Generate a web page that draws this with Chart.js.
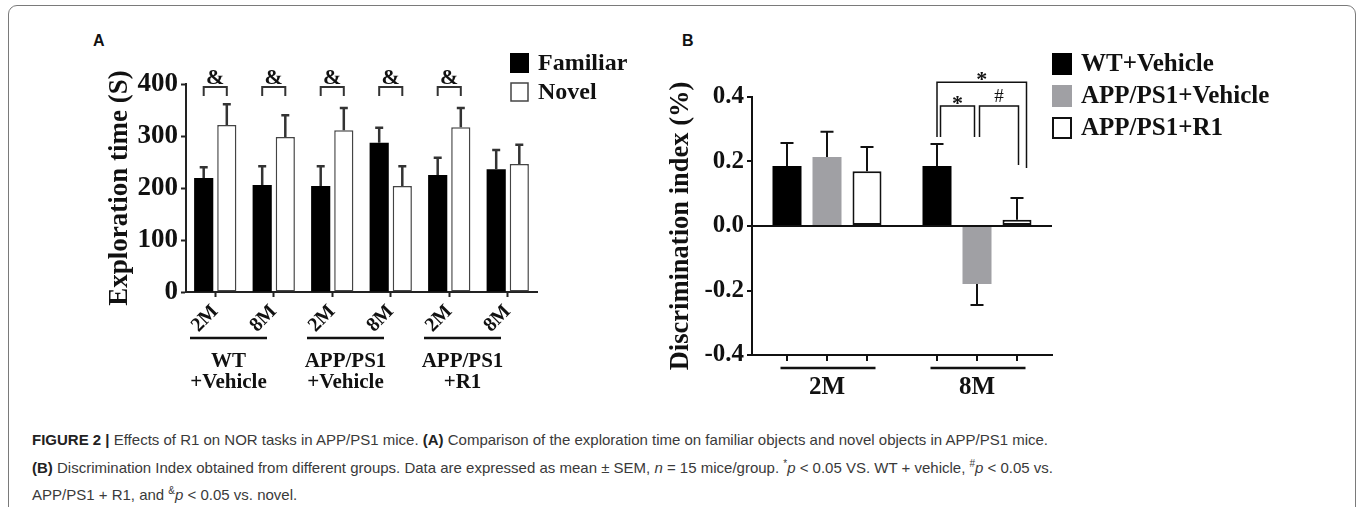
<!DOCTYPE html>
<html>
<head>
<meta charset="utf-8">
<script src="https://cdn.jsdelivr.net/npm/chart.js@4.4.1/dist/chart.umd.min.js"></script>
<style>
  html, body { margin: 0; padding: 0; background: #fff; }
  body { width: 1357px; height: 507px; position: relative; overflow: hidden; }
  #frame { position: absolute; left: 8px; top: 5px; width: 1346px; height: 560px; border: 1px solid #7a7a7a; border-radius: 9px; }
  .panel { position: absolute; font: bold 16px "Liberation Sans", Arial, sans-serif; color: #111; }
  #chartA { position: absolute; left: 104px; top: 20px; }
  #chartB { position: absolute; left: 665px; top: 20px; }
  #caption { position: absolute; left: 32px; top: 426px; font: 15px "Liberation Sans", Arial, sans-serif; color: #3a3a3a; line-height: 27.5px; white-space: nowrap; }
  #caption b { color: #222; }
  #caption sup { line-height: 0; font-size: 10px; }
</style>
</head>
<body>
<div id="frame"></div>
<div class="panel" style="left:93px; top:32px;">A</div>
<div class="panel" style="left:682px; top:32px;">B</div>
<canvas id="chartA" width="560" height="390"></canvas>
<canvas id="chartB" width="680" height="390"></canvas>
<div id="caption"><b>FIGURE 2 |</b> Effects of R1 on NOR tasks in APP/PS1 mice. <b>(A)</b> Comparison of the exploration time on familiar objects and novel objects in APP/PS1 mice.<br><b>(B)</b> Discrimination Index obtained from different groups. Data are expressed as mean ± SEM, <i>n</i> = 15 mice/group. <sup>*</sup><i>p</i> &lt; 0.05 VS. WT + vehicle, <sup>#</sup><i>p</i> &lt; 0.05 vs.<br>APP/PS1 + R1, and <sup>&amp;</sup><i>p</i> &lt; 0.05 vs. novel.</div>
<script>
// panel A data
const ageLabels = ['2M', '8M', '2M', '8M', '2M', '8M'];
const groupNames = [['WT', '+Vehicle'], ['APP/PS1', '+Vehicle'], ['APP/PS1', '+R1']];
const familiarTime = [219, 206, 204, 287, 225, 236];
const familiarSem = [21, 36, 38, 29, 33, 37];
const novelTime = [321, 298, 311, 204, 317, 246];
const novelSem = [40, 42, 43, 38, 37, 37];
const ampPairs = [0, 1, 2, 3, 4];

// panel B data
const ageGroups = ['2M', '8M'];
const wtIndex = [0.186, 0.186];
const wtSem = [0.071, 0.068];
const appIndex = [0.214, -0.18];
const appSem = [0.078, 0.065];
const r1Index = [0.17, 0.019];
const r1Sem = [0.075, 0.068];

const SERIF = '"Liberation Serif", "Times New Roman", serif';
const INK = '#111';

function drawErrors(chart, sems, capW, color, lw) {
  const ctx = chart.ctx, y = chart.scales.y;
  ctx.save();
  ctx.strokeStyle = color;
  ctx.lineWidth = lw;
  chart.data.datasets.forEach((ds, i) => {
    chart.getDatasetMeta(i).data.forEach((bar, j) => {
      const v = ds.data[j], e = sems[i][j];
      const tip = y.getPixelForValue(v >= 0 ? v + e : v - e);
      ctx.beginPath();
      ctx.moveTo(bar.x, bar.y);
      ctx.lineTo(bar.x, tip);
      ctx.moveTo(bar.x - capW / 2, tip);
      ctx.lineTo(bar.x + capW / 2, tip);
      ctx.stroke();
    });
  });
  ctx.restore();
}

function bracket(ctx, x0, x1, top, leg0, leg1) {
  ctx.beginPath();
  ctx.moveTo(x0, leg0);
  ctx.lineTo(x0, top);
  ctx.lineTo(x1, top);
  ctx.lineTo(x1, leg1);
  ctx.stroke();
}

function drawLegend(chart, x, y0, pitch, boxW, boxH, fontSize) {
  const ctx = chart.ctx;
  ctx.save();
  ctx.font = 'bold ' + fontSize + 'px ' + SERIF;
  ctx.textBaseline = 'middle';
  ctx.textAlign = 'left';
  chart.data.datasets.forEach((ds, i) => {
    const top = y0 + i * pitch;
    ctx.fillStyle = ds.backgroundColor;
    ctx.fillRect(x, top, boxW, boxH);
    if (ds.borderWidth) {
      ctx.strokeStyle = ds.borderColor;
      ctx.lineWidth = ds.borderWidth;
      ctx.strokeRect(x + 1, top + 1, boxW - 2, boxH - 2);
    }
    ctx.fillStyle = INK;
    ctx.fillText(ds.label, x + boxW + 9, top + boxH / 2 + 1);
  });
  ctx.restore();
}

const extrasA = {
  id: 'extrasA',
  afterDatasetsDraw(chart) {
    const ctx = chart.ctx, x = chart.scales.x, y = chart.scales.y, area = chart.chartArea;
    drawErrors(chart, [familiarSem, novelSem], 8, '#333', 2.5);
    const fam = chart.getDatasetMeta(0).data, nov = chart.getDatasetMeta(1).data;
    ctx.save();
    ctx.strokeStyle = '#333';
    ctx.lineWidth = 2;
    ctx.fillStyle = INK;
    ctx.textAlign = 'center';
    ctx.textBaseline = 'middle';
    ctx.font = 'bold 22px ' + SERIF;
    ampPairs.forEach(i => {
      const top = y.getPixelForValue(394), leg = y.getPixelForValue(377);
      bracket(ctx, fam[i].x, nov[i].x, top, leg, leg);
      ctx.fillText('&', (fam[i].x + nov[i].x) / 2, y.getPixelForValue(410));
    });
    // group underlines and names
    ctx.strokeStyle = INK;
    ctx.lineWidth = 2.5;
    ctx.font = 'bold 21px ' + SERIF;
    groupNames.forEach((names, g) => {
      const cx = (x.getPixelForValue(2 * g) + x.getPixelForValue(2 * g + 1)) / 2 - 16;
      ctx.beginPath();
      ctx.moveTo(cx - 38.5, area.bottom + 46);
      ctx.lineTo(cx + 38.5, area.bottom + 46);
      ctx.stroke();
      ctx.fillText(names[0], cx, area.bottom + 70);
      ctx.fillText(names[1], cx, area.bottom + 91);
    });
    ctx.restore();
    drawLegend(chart, area.right - 27, area.top - 31, 29, 19, 20, 24);
  }
};

const extrasB = {
  id: 'extrasB',
  afterDatasetsDraw(chart) {
    const ctx = chart.ctx, x = chart.scales.x, y = chart.scales.y, area = chart.chartArea;
    drawErrors(chart, [wtSem, appSem, r1Sem], 13, INK, 2);
    ctx.save();
    ctx.strokeStyle = INK;
    ctx.lineWidth = 2;
    // ticks under every bar
    chart.data.datasets.forEach((ds, i) => {
      chart.getDatasetMeta(i).data.forEach(bar => {
        ctx.beginPath();
        ctx.moveTo(bar.x, area.bottom);
        ctx.lineTo(bar.x, area.bottom + 6);
        ctx.stroke();
      });
    });
    // underline each age group
    ctx.lineWidth = 2.5;
    ageGroups.forEach((a, i) => {
      const cx = x.getPixelForValue(i) + 1;
      ctx.beginPath();
      ctx.moveTo(cx - 47.5, area.bottom + 13);
      ctx.lineTo(cx + 47.5, area.bottom + 13);
      ctx.stroke();
    });
    // significance brackets at 8M
    const b4 = chart.getDatasetMeta(0).data[1];
    const b5 = chart.getDatasetMeta(1).data[1];
    const b6 = chart.getDatasetMeta(2).data[1];
    const py = v => y.getPixelForValue(v);
    ctx.lineWidth = 1.5;
    bracket(ctx, b4.x, b6.x + 9.5, py(0.446), py(0.276), py(0.18));
    bracket(ctx, b4.x + 3.5, b5.x - 2.5, py(0.372), py(0.276), py(0.276));
    bracket(ctx, b5.x + 2.5, b6.x + 1.5, py(0.372), py(0.276), py(0.189));
    ctx.fillStyle = INK;
    ctx.textAlign = 'center';
    ctx.textBaseline = 'middle';
    ctx.font = 'bold 22px ' + SERIF;
    ctx.fillText('*', (b4.x + b6.x + 9.5) / 2, py(0.446) - 2);
    ctx.fillText('*', (b4.x + b5.x + 1) / 2, py(0.372) - 2);
    ctx.font = '19px ' + SERIF;
    ctx.fillText('#', (b5.x + b6.x + 4) / 2, py(0.372) - 9);
    ctx.restore();
    drawLegend(chart, area.right, area.top - 44, 32, 20, 22, 25);
  }
};

const axisFont = size => ({ family: SERIF, weight: 'bold', size: size });

new Chart(document.getElementById('chartA'), {
  type: 'bar',
  data: {
    labels: ageLabels,
    datasets: [
      { label: 'Familiar', data: familiarTime, backgroundColor: '#000', borderWidth: 0 },
      { label: 'Novel', data: novelTime, backgroundColor: '#fff', borderColor: '#444', borderWidth: 1.5, borderSkipped: false }
    ]
  },
  options: {
    responsive: false,
    animation: false,
    categoryPercentage: 0.79,
    barPercentage: 0.83,
    layout: { padding: { top: 64, right: 127, left: 0, bottom: 0 } },
    plugins: { legend: { display: false }, tooltip: { enabled: false } },
    scales: {
      x: {
        grid: { drawOnChartArea: false, offset: false, tickLength: 5, tickColor: '#222', tickWidth: 2 },
        border: { color: '#222', width: 2 },
        ticks: { color: INK, font: axisFont(20), minRotation: 45, maxRotation: 45, autoSkip: false, padding: 3 },
        afterFit: s => { s.height = 118; }
      },
      y: {
        min: 0, max: 400,
        grid: { drawOnChartArea: false, tickLength: 5, tickColor: '#222', tickWidth: 2 },
        border: { color: '#222', width: 2 },
        ticks: { stepSize: 100, color: INK, font: axisFont(27), padding: 3 },
        title: { display: true, text: 'Exploration time (S)', color: INK, font: axisFont(27), padding: 0 },
        afterFit: s => { s.width = 82; }
      }
    }
  },
  plugins: [extrasA]
});

new Chart(document.getElementById('chartB'), {
  type: 'bar',
  data: {
    labels: ageGroups,
    datasets: [
      { label: 'WT+Vehicle', data: wtIndex, backgroundColor: '#000', borderWidth: 0 },
      { label: 'APP/PS1+Vehicle', data: appIndex, backgroundColor: '#a0a0a4', borderWidth: 0 },
      { label: 'APP/PS1+R1', data: r1Index, backgroundColor: '#fff', borderColor: '#111', borderWidth: 2, borderSkipped: false }
    ]
  },
  options: {
    responsive: false,
    animation: false,
    categoryPercentage: 0.8,
    barPercentage: 0.725,
    layout: { padding: { top: 77, right: 293, left: 0, bottom: 0 } },
    plugins: { legend: { display: false }, tooltip: { enabled: false } },
    scales: {
      x: {
        grid: { drawOnChartArea: false, drawTicks: false },
        border: { color: INK, width: 2 },
        ticks: { color: INK, font: axisFont(25), padding: 18 },
        afterFit: s => { s.height = 55; }
      },
      y: {
        min: -0.4, max: 0.4,
        grid: {
          drawOnChartArea: true, tickLength: 5, tickColor: INK, tickWidth: 2, lineWidth: 2,
          color: c => (c.tick && Math.abs(c.tick.value) < 1e-9 ? INK : 'rgba(0,0,0,0)')
        },
        border: { color: INK, width: 2 },
        ticks: {
          stepSize: 0.2, color: INK, font: axisFont(25), padding: 3,
          callback: v => (Math.abs(v) < 1e-9 ? '0.0' : v.toFixed(1))
        },
        title: { display: true, text: 'Discrimination index (%)', color: INK, font: axisFont(26.5), padding: 0 },
        afterFit: s => { s.width = 87; }
      }
    }
  },
  plugins: [extrasB]
});
</script>
</body>
</html>
